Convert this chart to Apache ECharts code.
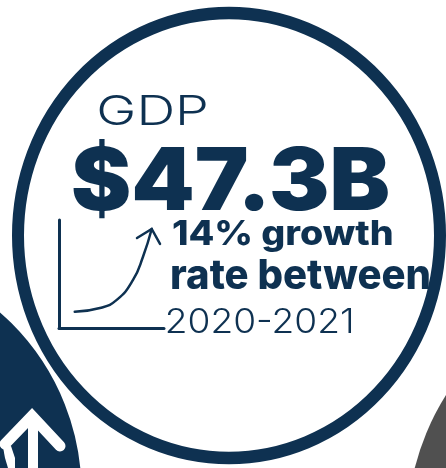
<!DOCTYPE html>
<html>
<head>
<meta charset="utf-8">
<script src="https://cdn.jsdelivr.net/npm/echarts@6/dist/echarts.min.js"></script>
<style>
html,body{margin:0;padding:0;background:#fff;}
#chart{width:446px;height:468px;}
</style>
</head>
<body>
<div id="chart"></div>
<script>
// ---- data ----
const titleLabel = 'GDP';
const valueLabel = '$47.3B';
const growthLines = ['14% growth', 'rate between', '2020-2021'];
// growth sketch curve (in sketch-axis units 0..100)
const curveX = [15, 39, 55, 70.5, 80, 88.3];
const curveY = [15, 18.5, 26, 44.5, 66, 91.7];
// open arrow head at the curve's end
const arrowX = [74.3, 88.3, 96.2];
const arrowY = [83.3, 91.7, 77.8];

const NAVY = '#0e3151';
const GREY = '#505050';
const FAMILY = 'Inter, "Open Sans", Lato, sans-serif';

const mc = document.createElement('canvas').getContext('2d');
function fitText(str, weight, left, right, top, baseline) {
  const base = 100;
  mc.font = weight + ' ' + base + 'px ' + FAMILY;
  mc.textBaseline = 'alphabetic';
  const mA = mc.measureText(str);
  const size = base * (baseline - top) / mA.actualBoundingBoxAscent;
  const font = weight + ' ' + size.toFixed(2) + 'px ' + FAMILY;
  mc.font = font;
  mc.textBaseline = 'middle';
  const m = mc.measureText(str);
  const ink = m.actualBoundingBoxLeft + m.actualBoundingBoxRight;
  const sx = (right - left) / ink;
  return {
    type: 'text', z: 20,
    x: left + m.actualBoundingBoxLeft * sx,
    y: top + m.actualBoundingBoxAscent,
    scaleX: sx,
    style: {
      text: str, font: font, fill: NAVY,
      textAlign: 'left', align: 'left',
      textVerticalAlign: 'middle', verticalAlign: 'middle'
    }
  };
}

const chart = echarts.init(document.getElementById('chart'), null, {renderer: 'canvas'});

const graphics = [
  // grey circle bottom right
  {type: 'circle', z: 1, shape: {cx: 660, cy: 530, r: 253}, style: {fill: GREY}},
  // main ring
  {type: 'circle', z: 2, x: 229, y: 235.5, scaleY: 1.0545,
   shape: {cx: 0, cy: 0, r: 211},
   style: {fill: 'none', stroke: NAVY, lineWidth: 12, strokeNoScale: true}},
  // navy circle bottom left
  {type: 'circle', z: 3, shape: {cx: -157, cy: 492, r: 240},
   style: {fill: NAVY, stroke: '#fff', lineWidth: 3}},
  // white up arrow inside it
  {type: 'polyline', z: 4, shape: {points: [[5, 444], [32, 416], [60, 446]]},
   style: {stroke: '#fff', lineWidth: 11, lineCap: 'round', lineJoin: 'miter', fill: 'none'}},
  {type: 'line', z: 4, shape: {x1: 33, y1: 424, x2: 33, y2: 475},
   style: {stroke: '#fff', lineWidth: 10}},
  {type: 'polygon', z: 4, shape: {points: [[3, 447], [11, 446], [15, 458], [15, 468], [8, 468], [5, 458]]},
   style: {fill: '#fff'}},
  fitText(titleLabel, 300, 99, 207, 95, 125),
  fitText(valueLabel, 900, 73, 388, 138, 210),
  fitText(growthLines[0], 800, 173, 392, 220, 245),
  fitText(growthLines[1], 800, 172, 429, 259, 289),
  fitText(growthLines[2], 300, 167, 352, 308, 333)
];

chart.setOption({
  animation: false,
  backgroundColor: '#fff',
  grid: {left: 59, top: 220, width: 105, height: 108},
  xAxis: {type: 'value', min: 0, max: 100,
    axisLine: {show: true, lineStyle: {color: NAVY, width: 3}},
    axisTick: {show: false}, axisLabel: {show: false}, splitLine: {show: false}},
  yAxis: {type: 'value', min: 0, max: 100,
    axisLine: {show: true, lineStyle: {color: NAVY, width: 3}},
    axisTick: {show: false}, axisLabel: {show: false}, splitLine: {show: false}},
  series: [
    {type: 'line', smooth: true, showSymbol: false, z: 10,
     data: curveX.map((x, i) => [x, curveY[i]]),
     lineStyle: {color: NAVY, width: 2.5, cap: 'round'}},
    {type: 'line', showSymbol: false, z: 10,
     data: arrowX.map((x, i) => [x, arrowY[i]]),
     lineStyle: {color: NAVY, width: 2.5, cap: 'round', join: 'miter'}}
  ],
  graphic: graphics
});
</script>
</body>
</html>
